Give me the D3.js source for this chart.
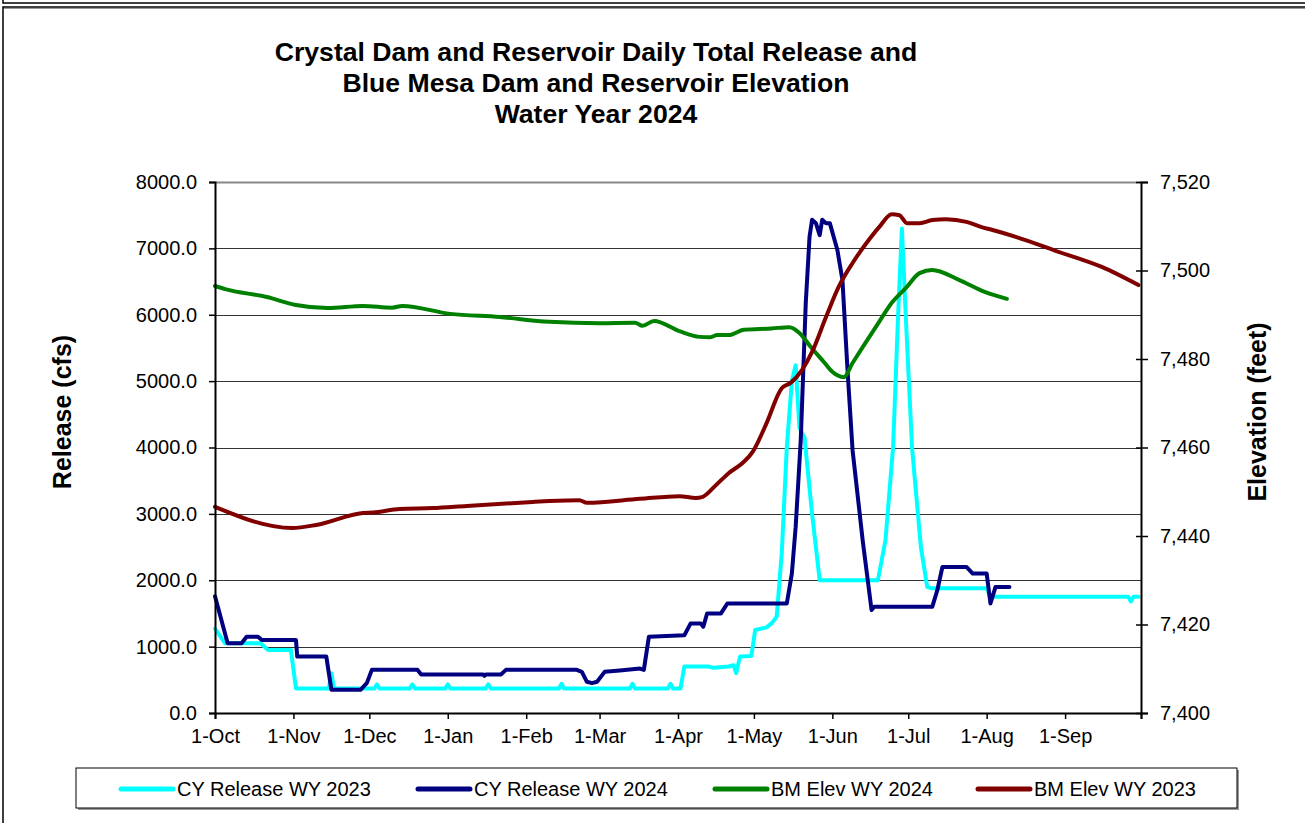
<!DOCTYPE html>
<html>
<head>
<meta charset="utf-8">
<script src="https://cdn.jsdelivr.net/npm/d3@7"></script>
<style>
  body { margin: 0; background: #fff; }
  text { font-family: Arial, "Liberation Sans", sans-serif; fill: #000; }
</style>
</head>
<body>
<div id="chart"></div>
<script>
// data: [day of water year (0 = 1-Oct), value]
var cyRelease2023 = [[0,1270],[4,1050],[18,1050],[21,950],[30,950],[32,370],[45,370],[46,600],[47,370],
  [63,370],[64,430],[65,370],[77,370],[78,430],[79,370],[91,370],[92,430],[93,370],[107,370],[108,430],[109,370],
  [136,370],[137,440],[138,370],[164,370],[165,440],[166,370],[179,370],[180,440],[181,370],[184,370],
  [185.5,700],[195,700],[197,680],[203,700],[205,720],[206,600],[207.5,850],[212,860],[213.5,1250],[218,1290],
  [220,1350],[222,1450],[224,2400],[226,4000],[228,5000],[229.5,5240],[231,4300],[233,4150],[236,3000],[239,2000],
  [262,2000],[265,2600],[268,4000],[270,6000],[271.5,7300],[273,6000],[275.5,4000],[279,2500],[281.5,1900],
  [283,1880],[300,1880],[305,1880],[306.5,1750],[361,1750],[362,1680],[363,1750],[365,1750]];

var cyRelease2024 = [[0,1760],[5,1050],[10.5,1050],[12.5,1150],[17,1150],[18.5,1100],[32,1100],[32.5,850],
  [44,850],[46,350],[57.5,350],[60,450],[62,650],[80,650],[81.5,580],[106,580],[106.5,560],[107,580],[113,580],
  [115,650],[143,650],[145,620],[147,470],[149,450],[151,470],[154,620],[160,640],[168,670],[169.5,650],
  [171.5,1150],[185.5,1170],[188,1350],[192,1350],[193,1300],[194.5,1500],[200,1500],[202.5,1650],[226,1650],
  [228,2100],[229.5,2800],[231.5,4100],[233.5,6180],[235,7180],[236,7430],[237.5,7380],[239,7200],[240,7430],
  [241.5,7380],[243,7380],[246,6975],[248,6520],[250,5170],[252,3960],[256,2600],[259.5,1550],[260.5,1600],
  [283.5,1600],[285.5,1850],[287.5,2200],[297,2200],[299.5,2100],[305,2100],[306.5,1650],[308.5,1900],[314,1900]];

var bmElev2024 = [[0,7496.5],[4,7495.8],[20.5,7494.0],[32,7492.2],[44.5,7491.5],[58.5,7492.0],[70,7491.6],
  [74,7492.0],[93,7490.2],[112.5,7489.5],[132,7488.4],[152,7488.1],[166,7488.2],[169,7487.5],[173.5,7488.6],
  [183.5,7486.3],[191.5,7485.0],[195.5,7484.9],[198.5,7485.4],[203,7485.4],[209,7486.6],[220,7486.9],
  [227,7487.2],[231,7485.9],[235.5,7482.7],[241,7479.1],[244,7477.1],[248.5,7475.9],[252,7479.1],[256,7482.7],
  [262.5,7488.4],[267.5,7492.7],[273,7496.0],[278.5,7499.4],[283.5,7500.1],[294,7497.9],[304.5,7495.1],[313,7493.6]];

var bmElev2023 = [[0,7446.6],[30.5,7441.8],[40,7442.5],[58.5,7445.2],[62.5,7445.3],[73,7446.1],[86,7446.3],
  [99.5,7446.8],[125.5,7447.7],[132,7447.9],[144,7448.1],[147,7447.5],[168,7448.4],[183.5,7449.0],[190,7448.6],
  [192.5,7448.8],[198,7451.5],[203,7454.2],[208.5,7456.5],[212.5,7459.0],[215,7461.7],[218,7465.5],[224,7473.4],
  [227.5,7474.6],[232,7477.5],[236,7481.6],[241.5,7489.5],[246.5,7496.3],[252,7501.7],[257.5,7506.2],
  [262.5,7509.8],[267.5,7512.7],[270.5,7512.5],[273.5,7510.7],[278.5,7510.7],[283.5,7511.4],[289,7511.6],
  [297,7511.0],[303,7509.8],[307,7509.2],[316.5,7507.6],[332.5,7504.4],[350.5,7500.8],[365,7496.7]];

var monthLabels = ["1-Oct","1-Nov","1-Dec","1-Jan","1-Feb","1-Mar","1-Apr","1-May","1-Jun","1-Jul","1-Aug","1-Sep"];
var releaseTicks = [0,1000,2000,3000,4000,5000,6000,7000,8000];
var elevTicks = [7400,7420,7440,7460,7480,7500,7520];
var titleLines = ["Crystal Dam and Reservoir Daily Total Release and",
                  "Blue Mesa Dam and Reservoir Elevation",
                  "Water Year 2024"];

var series = [
  {name: "CY Release WY 2023", data: cyRelease2023, axis: "left",  color: "#00ffff"},
  {name: "CY Release WY 2024", data: cyRelease2024, axis: "left",  color: "#000080"},
  {name: "BM Elev WY 2024",    data: bmElev2024,    axis: "right", color: "#008000"},
  {name: "BM Elev WY 2023",    data: bmElev2023,    axis: "right", color: "#800000"}
];

var W = 1305, H = 823;
var plot = {left: 215, right: 1141, top: 182, bottom: 713};

var svg = d3.select("#chart").append("svg")
    .attr("width", W).attr("height", H);

// outer frames
svg.append("path").attr("d", "M3,0V3H" + W)
    .attr("fill", "none").attr("stroke", "#000").attr("stroke-width", 1.5);
svg.append("rect").attr("x", 3).attr("y", 7).attr("width", W + 10).attr("height", H + 10)
    .attr("fill", "#fff").attr("stroke", "#000").attr("stroke-width", 1.5);
svg.append("line").attr("x1", 4).attr("x2", W).attr("y1", 8.5).attr("y2", 8.5)
    .attr("stroke", "#999").attr("stroke-width", 1);

// title
svg.append("g").selectAll("text").data(titleLines).enter().append("text")
    .attr("x", 596).attr("y", function(d, i) { return 61 + i * 31; })
    .attr("text-anchor", "middle")
    .style("font-size", "26.6px").style("font-weight", "bold")
    .text(function(d) { return d; });

// scales
var start = new Date(2023, 9, 1), end = new Date(2024, 9, 1);
var totalDays = d3.timeDay.count(start, end);
var monthDays = d3.timeMonth.range(start, end).map(function(d) { return d3.timeDay.count(start, d); });

var x = d3.scaleLinear().domain([0, totalDays]).range([plot.left, plot.right]);
var yL = d3.scaleLinear().domain([0, 8000]).range([plot.bottom, plot.top]);
var yR = d3.scaleLinear().domain([7400, 7520]).range([plot.bottom, plot.top]);

// gridlines
svg.append("g").selectAll("line").data(releaseTicks.slice(1)).enter().append("line")
    .attr("x1", plot.left).attr("x2", plot.right)
    .attr("y1", function(d) { return Math.round(yL(d)) + 0.5; })
    .attr("y2", function(d) { return Math.round(yL(d)) + 0.5; })
    .attr("stroke", function(d) { return d === 8000 ? "#888" : "#333"; })
    .attr("stroke-width", function(d) { return d === 8000 ? 2 : 1; });

// lines: releases straight segments, elevations smoothed
var lineL = d3.line().x(function(d) { return x(d[0]); }).y(function(d) { return yL(d[1]); });
var lineR = d3.line().x(function(d) { return x(d[0]); }).y(function(d) { return yR(d[1]); })
    .curve(d3.curveMonotoneX);

svg.append("g").selectAll("path").data(series).enter().append("path")
    .attr("d", function(s) { return s.axis === "left" ? lineL(s.data) : lineR(s.data); })
    .attr("fill", "none")
    .attr("stroke", function(s) { return s.color; })
    .attr("stroke-width", 4)
    .attr("stroke-linejoin", "round")
    .attr("stroke-linecap", "round");

// axes
var xAxis = d3.axisBottom(x)
    .tickValues(monthDays.concat([totalDays]))
    .tickSize(6).tickPadding(10)
    .tickFormat(function(d, i) { return monthLabels[i] || ""; });
var gx = svg.append("g").attr("transform", "translate(0," + plot.bottom + ")").call(xAxis);

var gl = svg.append("g").attr("transform", "translate(" + plot.left + ",0)")
    .call(d3.axisLeft(yL).tickValues(releaseTicks).tickSize(6).tickPadding(12).tickFormat(d3.format(".1f")));

var gr = svg.append("g").attr("transform", "translate(" + plot.right + ",0)")
    .call(d3.axisRight(yR).tickValues(elevTicks).tickSize(7).tickPadding(12).tickFormat(d3.format(",")));
gr.selectAll(".tick line").attr("x1", -5);

[gx, gl, gr].forEach(function(g) {
  g.select(".domain").attr("stroke", "#000").attr("stroke-width", 2);
  g.selectAll(".tick line").attr("stroke", "#000").attr("stroke-width", 1.5);
  g.selectAll(".tick text").style("font-size", "20px").style("font-family", "Arial, 'Liberation Sans', sans-serif");
});

// axis titles
svg.append("text").attr("transform", "translate(62,412) rotate(-90)")
    .attr("text-anchor", "middle").attr("dy", "0.35em")
    .style("font-size", "25px").style("font-weight", "bold")
    .text("Release (cfs)");
svg.append("text").attr("transform", "translate(1257,412) rotate(-90)")
    .attr("text-anchor", "middle").attr("dy", "0.35em")
    .style("font-size", "25px").style("font-weight", "bold")
    .text("Elevation (feet)");

// legend
var legend = svg.append("g");
legend.append("rect").attr("x", 78).attr("y", 770).attr("width", 1161).attr("height", 40)
    .attr("fill", "#999");
legend.append("rect").attr("x", 76).attr("y", 768).attr("width", 1161).attr("height", 40)
    .attr("fill", "#fff").attr("stroke", "#000").attr("stroke-width", 1);
var legendX = [121, 418, 715, 978];
var items = legend.selectAll("g.item").data(series).enter().append("g")
    .attr("class", "item")
    .attr("transform", function(d, i) { return "translate(" + legendX[i] + ",789)"; });
items.append("line").attr("x1", 0).attr("x2", 52).attr("y1", 0).attr("y2", 0)
    .attr("stroke", function(d) { return d.color; }).attr("stroke-width", 5)
    .attr("stroke-linecap", "round");
items.append("text").attr("x", 56).attr("dy", "0.35em")
    .style("font-size", "20px")
    .text(function(d) { return d.name; });
</script>
</body>
</html>
